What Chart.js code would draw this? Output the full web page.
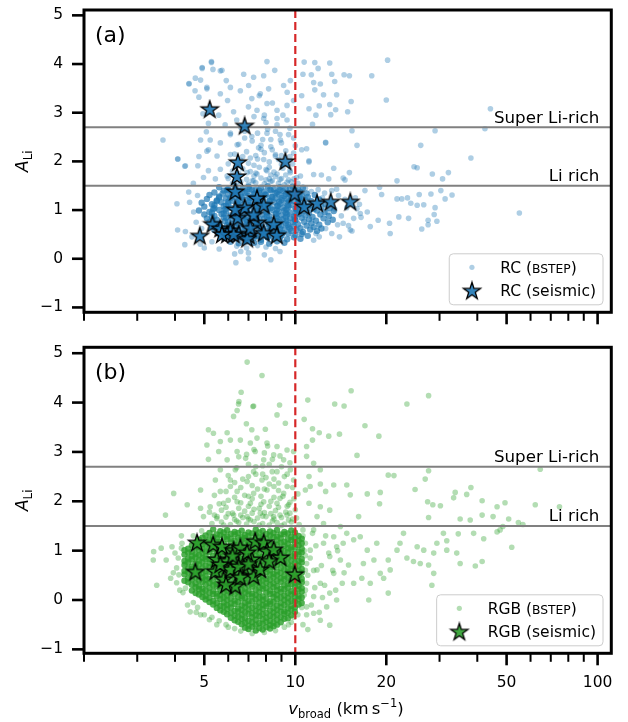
<!DOCTYPE html>
<html>
<head>
<meta charset="utf-8">
<script src="https://cdn.jsdelivr.net/npm/chart.js@4.4.1/dist/chart.umd.min.js"></script>
<style>
  html, body { margin: 0; padding: 0; background: #fff; }
  #wrap { position: relative; width: 628px; height: 722px; }
  canvas { position: absolute; left: 0; }
  #rc { top: 0; }
  #rgb { top: 330px; }
</style>
</head>
<body>
<div id="wrap">
  <canvas id="rc" width="628" height="330"></canvas>
  <canvas id="rgb" width="628" height="392"></canvas>
</div>
<script>
// --- axes ---
const xMajorTicks = [5, 10, 20, 50, 100];
const xMinorTicks = [2, 3, 4, 6, 7, 8, 9, 30, 40, 60, 70, 80, 90];
const yTicks = [-1, 0, 1, 2, 3, 4, 5];
const liLimits = [2.7, 1.5];
const liLimitNames = ['Super Li-rich', 'Li rich'];
const vbroadCut = 10;

// --- red clump: [vbroad, A(Li)] ---
const rcSeismic = [
  [5.21,3.06],[6.80,2.72],[6.46,1.97],[6.41,1.68],[6.33,1.37],[9.27,1.99],[9.95,1.32],
  [10.7,1.06],[11.8,1.13],[13.1,1.16],[15.2,1.16],[7.47,1.23],[7.86,1.09],[6.80,1.04],
  [4.83,0.46],[5.32,0.70],[5.65,0.61],[6.10,0.57],[6.45,0.83],[5.95,0.49],[6.5,0.50],
  [7.01,0.47],[7.47,0.73],[6.93,0.40],[8.48,0.69],[8.68,0.47],[7.86,0.52],[7.28,0.89],
  [6.33,1.00],[6.25,0.49],[5.72,0.49],[7.1,0.62]
];
// densely packed part of the survey sample
const rcBstepCore = [
  [5.6,1.47],[6.0,1.43],[6.3,1.49],[6.7,1.44],[7.0,1.48],[7.4,1.42],[7.7,1.46],[8.1,1.49],[8.5,1.43],[8.9,1.47],[9.3,1.44],[9.8,1.48],[10.2,1.42],[10.6,1.46],
  [5.4,1.36],[5.8,1.40],[6.2,1.35],[6.5,1.39],[6.9,1.37],[7.2,1.41],[7.6,1.35],[7.9,1.38],[8.3,1.40],[8.7,1.36],[9.1,1.39],[9.5,1.35],[10.0,1.40],[10.4,1.37],[10.9,1.34],
  [5.2,1.31],[5.6,1.28],[6.0,1.32],[6.35,1.27],[6.6,1.31],[7.0,1.29],[7.3,1.33],[7.7,1.28],[8.0,1.31],[8.4,1.27],[8.8,1.32],[9.2,1.29],[9.6,1.33],[10.1,1.28],[10.5,1.30],[11.0,1.27],[11.6,1.31],
  [5.1,1.23],[5.5,1.20],[5.9,1.24],[6.2,1.19],[6.5,1.23],[6.8,1.21],[7.1,1.25],[7.5,1.20],[7.8,1.23],[8.2,1.19],[8.6,1.24],[9.0,1.21],[9.4,1.23],[9.9,1.19],[10.3,1.24],[10.8,1.21],[11.3,1.18],[12.0,1.22],
  [4.9,1.15],[5.3,1.12],[5.7,1.16],[6.0,1.13],[6.4,1.15],[6.7,1.11],[7.0,1.16],[7.4,1.13],[7.7,1.15],[8.1,1.12],[8.5,1.16],[8.9,1.13],[9.3,1.15],[9.7,1.11],[10.2,1.16],[10.7,1.13],[11.2,1.10],[11.9,1.15],[12.6,1.12],
  [5.0,1.07],[5.4,1.04],[5.8,1.08],[6.1,1.05],[6.5,1.07],[6.8,1.03],[7.2,1.08],[7.5,1.05],[7.9,1.07],[8.3,1.04],[8.7,1.08],[9.1,1.05],[9.5,1.07],[10.0,1.03],[10.5,1.08],[11.0,1.05],[11.5,1.02],[12.2,1.07],[13.0,1.04],
  [4.8,0.99],[5.2,0.96],[5.6,1.00],[5.9,0.97],[6.3,0.99],[6.6,0.95],[6.9,1.00],[7.3,0.97],[7.6,0.99],[8.0,0.96],[8.4,1.00],[8.8,0.97],[9.2,0.99],[9.6,0.95],[10.1,1.00],[10.6,0.97],[11.1,0.94],[11.8,0.99],[12.5,0.96],[13.4,0.98],
  [5.0,0.91],[5.4,0.88],[5.7,0.92],[6.1,0.89],[6.4,0.91],[6.7,0.87],[7.1,0.92],[7.4,0.89],[7.8,0.91],[8.2,0.88],[8.6,0.92],[9.0,0.89],[9.4,0.91],[9.9,0.87],[10.3,0.92],[10.8,0.89],[11.4,0.86],[12.1,0.91],[12.9,0.88],
  [5.1,0.83],[5.5,0.80],[5.9,0.84],[6.2,0.81],[6.6,0.83],[6.9,0.79],[7.2,0.84],[7.6,0.81],[7.9,0.83],[8.3,0.80],[8.7,0.84],[9.1,0.81],[9.6,0.83],[10.0,0.79],[10.5,0.84],[11.1,0.81],[11.7,0.78],[12.4,0.83],[13.3,0.80],
  [5.2,0.75],[5.6,0.72],[6.0,0.76],[6.3,0.73],[6.7,0.75],[7.0,0.71],[7.4,0.76],[7.7,0.73],[8.1,0.75],[8.5,0.72],[8.9,0.76],[9.3,0.73],[9.8,0.75],[10.2,0.71],[10.7,0.76],[11.3,0.73],[12.0,0.70],[12.8,0.75],
  [5.3,0.67],[5.7,0.64],[6.1,0.68],[6.4,0.65],[6.8,0.67],[7.1,0.63],[7.5,0.68],[7.8,0.65],[8.2,0.67],[8.6,0.64],[9.0,0.68],[9.5,0.65],[9.9,0.67],[10.4,0.63],[10.9,0.68],[11.5,0.65],[12.2,0.62],
  [5.4,0.59],[5.8,0.56],[6.2,0.60],[6.5,0.57],[6.9,0.59],[7.2,0.55],[7.6,0.60],[8.0,0.57],[8.4,0.59],[8.8,0.56],[9.2,0.60],[9.7,0.57],[10.1,0.59],[10.6,0.55],[11.2,0.60],[11.8,0.57],
  [5.6,0.51],[6.0,0.48],[6.3,0.52],[6.7,0.49],[7.0,0.51],[7.4,0.47],[7.8,0.52],[8.2,0.49],[8.6,0.51],[9.0,0.48],[9.5,0.52],[10.0,0.49],[10.5,0.51],[11.0,0.47],
  [5.8,0.43],[6.2,0.40],[6.6,0.44],[7.0,0.41],[7.3,0.43],[7.7,0.39],[8.1,0.44],[8.5,0.41],[8.9,0.43],[9.4,0.40],[9.9,0.44],[10.4,0.41],
  [6.1,0.35],[6.5,0.32],[6.9,0.36],[7.3,0.33],[7.7,0.35],[8.2,0.31],[8.7,0.36],[9.2,0.33],
  [5.95,1.42],[6.45,1.41],[7.05,1.43],[7.6,1.40],[8.25,1.42],[8.9,1.41],[9.6,1.43],
  [5.75,1.34],[6.3,1.33],[6.8,1.35],[7.35,1.34],[7.95,1.32],[8.6,1.35],[9.3,1.33],[10.0,1.34],
  [5.6,1.26],[6.1,1.25],[6.65,1.27],[7.2,1.26],[7.75,1.24],[8.35,1.27],[9.0,1.25],[9.7,1.26],[10.4,1.25],
  [5.5,1.18],[6.0,1.17],[6.55,1.19],[7.1,1.18],[7.65,1.16],[8.25,1.19],[8.85,1.17],[9.55,1.18],[10.3,1.19],
  [5.4,1.10],[5.9,1.09],[6.45,1.11],[7.0,1.10],[7.55,1.08],[8.15,1.11],[8.75,1.09],[9.45,1.10],[10.2,1.11],
  [5.35,1.02],[5.85,1.01],[6.4,1.03],[6.95,1.02],[7.5,1.00],[8.1,1.03],[8.7,1.01],[9.35,1.02],[10.1,1.03],
  [5.3,0.94],[5.8,0.93],[6.35,0.95],[6.9,0.94],[7.45,0.92],[8.05,0.95],[8.65,0.93],[9.3,0.94],[10.05,0.95],
  [5.3,0.86],[5.8,0.85],[6.35,0.87],[6.9,0.86],[7.45,0.84],[8.05,0.87],[8.65,0.85],[9.3,0.86],[10.0,0.87],
  [5.35,0.78],[5.85,0.77],[6.4,0.79],[6.95,0.78],[7.5,0.76],[8.1,0.79],[8.7,0.77],[9.35,0.78],[10.0,0.79],
  [5.45,0.70],[5.95,0.69],[6.5,0.71],[7.05,0.70],[7.6,0.68],[8.2,0.71],[8.8,0.69],[9.45,0.70],
  [5.6,0.62],[6.1,0.61],[6.6,0.63],[7.15,0.62],[7.7,0.60],[8.3,0.63],[8.9,0.61],[9.6,0.62],
  [5.8,0.54],[6.3,0.53],[6.8,0.55],[7.3,0.54],[7.85,0.52],[8.45,0.55],[9.1,0.53],
  [6.0,0.46],[6.5,0.45],[7.0,0.47],[7.55,0.46],[8.1,0.44],[8.7,0.47]
];
const rcBstepPlume = [
  [5.28,4.05],[8.06,4.05],[4.92,3.91],[5.34,3.89],[5.72,3.87],[8.55,3.87],[4.67,3.71],[4.45,3.60],[5.91,3.66],[6.75,3.79],
  [7.28,3.73],[7.86,3.76],[7.01,3.56],[6.1,3.52],[6.58,3.45],[7.66,3.39],[8.16,3.49],[9.15,3.56],[9.63,3.66],[5.65,3.39],
  [5.10,3.49],[4.80,3.32],[5.97,3.25],[7.18,3.29],[8.06,3.19],[8.70,3.05],[9.39,3.15],[9.87,3.25],[6.25,3.02],[7.47,3.05],
  [5.58,2.95],[7.86,2.88],[8.70,2.75],[9.39,2.85],[5.86,2.75],[5.16,2.78],[6.1,2.58],[7.18,2.51],[8.06,2.58],[8.93,2.44],
  [9.87,2.48],[5.23,2.44],[3.65,2.44],[5.65,2.38],[6.42,2.34],[7.56,2.28],[8.39,2.24],[5.10,2.21],[5.51,2.11],[6.1,2.14],
  [7.1,2.07],[7.86,2.04],[8.59,2.11],[9.87,2.17],[10.5,2.24],[11.1,2.01],[4.08,2.05],[4.76,1.91],[5.16,1.81],[5.65,1.84],
  [5.95,1.70],[6.93,1.77],[7.47,1.74],[8.06,1.81],[8.70,1.74],[9.63,1.77],[4.33,1.91],[4.97,1.67],[5.44,1.64],[7.28,1.60],
  [8.39,1.60],[9.39,1.57],[10.1,1.67],
  [6.2,1.55],[6.6,1.58],[7.0,1.53],[7.4,1.56],[7.9,1.54],[8.3,1.59],[8.8,1.55],[9.2,1.52],[9.7,1.58],[10.2,1.55],
  [6.0,1.65],[6.4,1.68],[6.9,1.63],[7.3,1.70],[7.7,1.66],[8.2,1.64],[8.6,1.69],[9.0,1.65],[9.5,1.62],[10.4,1.70],
  [6.2,1.80],[6.7,1.85],[7.1,1.79],[7.6,1.88],[8.0,1.83],[8.5,1.78],[9.1,1.86],[9.6,1.81],
  [6.0,1.95],[6.6,2.02],[7.0,1.96],[7.5,2.05],[8.2,1.99],[8.8,2.04],[9.8,1.95],
  [6.3,2.15],[6.9,2.20],[7.4,2.12],[7.9,2.18],[8.6,2.14],[9.3,2.22],
  [6.5,2.35],[7.2,2.42],[7.7,2.33],[8.3,2.45],[9.0,2.38],[10.0,2.32],
  [6.1,2.55],[6.8,2.62],[7.5,2.58],[8.1,2.66],[8.9,2.55],[9.6,2.68],
  [6.4,2.85],[7.3,2.92],[8.0,2.80],[9.1,2.95],[7.0,3.12],[8.4,3.20],[7.6,3.35],[9.4,3.42],
  [6.4,1.52],[7.2,1.60],[8.0,1.62],[8.9,1.63],[9.9,1.64],[6.5,1.75],[7.4,1.76],[8.3,1.72],[9.3,1.72],
  [6.4,1.90],[7.3,1.92],[8.2,1.88],[9.0,1.94],[9.6,2.10],[6.7,2.10],[7.7,2.25],[8.3,2.30],[9.0,2.12],
  [6.8,2.48],[7.8,2.45],[8.6,2.62],[9.5,2.55],[6.6,2.70],[7.9,2.95],[8.7,2.88],
  [6.4,0.26],[6.9,0.22],[7.5,0.27],[8.0,0.24],[8.6,0.21],[7.0,0.12],[7.9,0.08],[8.9,0.15],[6.6,0.15],[8.3,-0.02],[7.0,0.0],[6.36,-0.08],[6.3,0.10]
];
const rcBstepWide = [
  [20.2,4.08],[10.7,4.04],[11.6,4.03],[13.0,4.02],[11.9,3.91],[10.6,3.79],[11.3,3.78],[13.2,3.79],[14.5,3.78],[15.1,3.76],
  [17.9,3.76],[11.5,3.62],[13.5,3.64],[12.1,3.59],[11.6,3.47],[12.4,3.37],[13.7,3.37],[10.5,3.35],[20.0,3.26],[15.3,3.23],
  [13.0,3.17],[12.0,3.14],[13.6,3.06],[11.1,3.08],[14.9,3.02],[11.7,2.95],[13.1,2.96],[11.4,2.76],[44.2,3.08],[42.4,2.67],
  [15.4,2.63],[29.0,2.63],[12.6,2.39],[10.9,2.26],[16.0,2.33],[26.0,2.33],[38.1,2.07],[11.1,1.99],[13.4,1.86],[24.7,1.89],
  [25.3,1.87],[28.4,1.74],[30.7,1.64],[32.1,1.77],[12.2,1.72],[11.5,1.73],[15.1,1.77],[14.4,1.66],[21.7,1.60],[19.0,1.47],
  [17.0,1.40],[19.3,1.32],[21.7,1.23],[22.5,1.23],[23.5,1.25],[25.7,1.32],[28.1,1.33],[30.3,1.40],[33.0,1.31],[31.3,1.23],
  [24.1,1.14],[25.3,1.10],[26.6,1.11],[29.0,1.05],[28.8,0.91],[22.0,0.86],[23.7,0.83],[27.5,0.79],[29.4,0.77],[55.1,0.94],
  [20.5,0.73],[18.8,0.79],[17.7,0.66],[20.6,0.52],[26.2,0.61],[27.5,0.70],[15.4,0.57],
  [14.6,1.62],[12.6,2.38],[12.9,1.64],[13.7,1.43],[16.0,1.03],[15.6,0.83],[16.4,0.93],[17.3,0.96],[15.2,0.59],[14.4,0.73],
  [10.8,1.45],[11.3,1.38],[11.9,1.42],[12.5,1.35],[13.2,1.40],[13.9,1.30],[14.6,1.22],[13.5,1.02],[12.8,0.95],[14.2,0.88],
  [13.8,0.70],[12.6,0.62],[13.2,0.52],[14.0,0.45],[12.0,0.45],[11.5,0.38],[14.8,1.05],[15.8,1.25],[16.3,1.12],[15.0,0.68],
  [16.5,0.85],[12.3,1.25],[11.7,0.52],
  [4.09,2.05],[4.31,1.90],[4.06,1.13],[4.08,0.59],[4.33,0.56],[4.31,0.29],[4.47,1.16],[4.61,0.96],[4.45,3.59],[4.92,3.93],
  [4.86,3.67],[4.66,3.45],[5.28,4.03],[5.65,3.86],[5.10,3.52],[4.95,2.98],[5.08,2.61],[4.86,2.44],[5.16,2.24],[4.80,2.10],
  [4.44,1.37],[4.7,0.75],[4.55,0.45],[4.9,0.62],[4.75,1.30],[4.85,0.30],[5.0,0.22],[4.6,1.55],[5.6,0.20],[5.3,0.35]
];

// --- red giant branch: [vbroad, A(Li)] ---
const rgbSeismic = [
  [4.73,1.15],[4.67,0.56],[5.35,1.11],[5.72,1.07],[6.25,1.00],[5.50,0.81],[5.95,0.78],[6.58,1.05],
  [5.44,0.57],[5.79,0.41],[6.33,0.27],[6.10,0.61],[6.75,0.64],[7.18,0.81],[7.28,0.47],[7.37,1.18],
  [7.86,1.15],[8.06,0.98],[8.48,1.01],[8.93,0.85],[7.66,0.61],[6.93,0.95],[6.49,0.67],[9.95,0.51],
  [5.65,0.71],[6.58,0.45],[5.9,0.30],[7.0,0.72],[8.2,0.78],[6.2,0.88]
];
const rgbBstepCore = [
  [5.35,1.43],[5.65,1.395],[5.95,1.415],[6.3,1.38],[6.65,1.405],[7.0,1.37],[7.4,1.425],[7.8,1.4],[8.25,1.39],[8.7,1.42],[9.2,1.38],[9.7,1.41],
  [5.05,1.31],[5.35,1.28],[5.65,1.32],[5.95,1.29],[6.3,1.33],[6.65,1.27],[7.0,1.3],[7.4,1.32],[7.8,1.28],[8.25,1.31],[8.7,1.29],[9.2,1.33],[9.7,1.28],[10.25,1.3],
  [4.8,1.22],[5.05,1.19],[5.35,1.21],[5.65,1.18],[5.95,1.23],[6.3,1.2],[6.65,1.22],[7.0,1.17],[7.4,1.21],[7.8,1.23],[8.25,1.19],[8.7,1.22],[9.2,1.18],[9.7,1.21],[10.25,1.2],
  [4.55,1.11],[4.8,1.08],[5.05,1.12],[5.35,1.09],[5.65,1.11],[5.95,1.07],[6.3,1.12],[6.65,1.1],[7.0,1.13],[7.4,1.08],[7.8,1.11],[8.25,1.09],[8.7,1.12],[9.2,1.1],[9.7,1.07],[10.25,1.11],
  [4.3,1.01],[4.55,0.98],[4.8,1.02],[5.05,0.99],[5.35,1.03],[5.65,0.97],[5.95,1.01],[6.3,0.99],[6.65,1.02],[7.0,0.98],[7.4,1.0],[7.8,1.03],[8.25,0.97],[8.7,1.01],[9.2,0.99],[9.7,1.02],[10.25,0.98],
  [4.3,0.92],[4.55,0.89],[4.8,0.91],[5.05,0.88],[5.35,0.9],[5.65,0.93],[5.95,0.89],[6.3,0.91],[6.65,0.87],[7.0,0.92],[7.4,0.9],[7.8,0.88],[8.25,0.91],[8.7,0.93],[9.2,0.89],[9.7,0.9],[10.25,0.92],
  [4.3,0.79],[4.55,0.82],[4.8,0.8],[5.05,0.83],[5.35,0.78],[5.65,0.81],[5.95,0.8],[6.3,0.77],[6.65,0.82],[7.0,0.8],[7.4,0.83],[7.8,0.79],[8.25,0.81],[8.7,0.78],[9.2,0.82],[9.7,0.8],[10.25,0.79],
  [4.3,0.71],[4.55,0.68],[4.8,0.72],[5.05,0.7],[5.35,0.69],[5.65,0.73],[5.95,0.68],[6.3,0.71],[6.65,0.7],[7.0,0.67],[7.4,0.72],[7.8,0.7],[8.25,0.68],[8.7,0.71],[9.2,0.73],[9.7,0.69],[10.25,0.7],
  [4.3,0.59],[4.55,0.62],[4.8,0.6],[5.05,0.58],[5.35,0.61],[5.65,0.59],[5.95,0.62],[6.3,0.6],[6.65,0.57],[7.0,0.61],[7.4,0.59],[7.8,0.62],[8.25,0.6],[8.7,0.58],[9.2,0.61],[9.7,0.63],[10.25,0.59],
  [4.3,0.52],[4.55,0.49],[4.8,0.51],[5.05,0.48],[5.35,0.52],[5.65,0.5],[5.95,0.47],[6.3,0.51],[6.65,0.53],[7.0,0.49],[7.4,0.5],[7.8,0.48],[8.25,0.52],[8.7,0.5],[9.2,0.49],[9.7,0.51],[10.25,0.48],
  [4.3,0.39],[4.55,0.42],[4.8,0.4],[5.05,0.41],[5.35,0.38],[5.65,0.42],[5.95,0.4],[6.3,0.39],[6.65,0.41],[7.0,0.43],[7.4,0.38],[7.8,0.4],[8.25,0.41],[8.7,0.39],[9.2,0.42],[9.7,0.4],[10.25,0.37],
  [4.55,0.31],[4.8,0.28],[5.05,0.32],[5.35,0.3],[5.65,0.29],[5.95,0.32],[6.3,0.28],[6.65,0.31],[7.0,0.3],[7.4,0.33],[7.8,0.29],[8.25,0.31],[8.7,0.28],[9.2,0.3],[9.7,0.32],[10.25,0.29],
  [4.55,0.19],[4.8,0.22],[5.05,0.2],[5.35,0.18],[5.65,0.21],[5.95,0.19],[6.3,0.22],[6.65,0.2],[7.0,0.18],[7.4,0.21],[7.8,0.23],[8.25,0.19],[8.7,0.2],[9.2,0.22],[9.7,0.18],[10.25,0.21],
  [4.8,0.11],[5.05,0.08],[5.35,0.12],[5.65,0.1],[5.95,0.09],[6.3,0.12],[6.65,0.08],[7.0,0.11],[7.4,0.1],[7.8,0.07],[8.25,0.12],[8.7,0.1],[9.2,0.09],[9.7,0.11],[10.25,0.08],
  [5.05,0.01],[5.35,-0.02],[5.65,0.02],[5.95,0],[6.3,-0.01],[6.65,0.03],[7.0,-0.02],[7.4,0.01],[7.8,0],[8.25,-0.03],[8.7,0.02],[9.2,0],[9.7,-0.01],[10.25,0.02],
  [5.35,-0.09],[5.65,-0.12],[5.95,-0.1],[6.3,-0.08],[6.65,-0.11],[7.0,-0.09],[7.4,-0.12],[7.8,-0.1],[8.25,-0.08],[8.7,-0.11],[9.2,-0.1],[9.7,-0.12],[10.25,-0.09],
  [5.65,-0.21],[5.95,-0.18],[6.3,-0.22],[6.65,-0.2],[7.0,-0.19],[7.4,-0.22],[7.8,-0.18],[8.25,-0.21],[8.7,-0.2],[9.2,-0.23],[9.7,-0.19],
  [5.95,-0.29],[6.3,-0.32],[6.65,-0.3],[7.0,-0.28],[7.4,-0.31],[7.8,-0.29],[8.25,-0.32],[8.7,-0.3],[9.2,-0.28],[9.7,-0.31],
  [6.3,-0.41],[6.65,-0.38],[7.0,-0.42],[7.4,-0.4],[7.8,-0.39],[8.25,-0.42],[8.7,-0.4],[9.2,-0.38],
  [6.65,-0.49],[7.0,-0.52],[7.4,-0.5],[7.8,-0.48],[8.25,-0.51],[8.7,-0.5],
  [7.0,-0.59],[7.4,-0.62],[7.8,-0.6],[8.25,-0.58],
  [5.2,1.36],[5.5,1.33],[5.8,1.37],[6.12,1.34],[6.47,1.36],[6.82,1.32],[7.2,1.35],[7.6,1.37],[8.02,1.34],[8.47,1.36],[8.95,1.33],[9.45,1.35],[9.97,1.37],
  [4.93,1.26],[5.2,1.23],[5.5,1.25],[5.8,1.27],[6.12,1.24],[6.47,1.26],[6.82,1.25],[7.2,1.22],[7.6,1.26],[8.02,1.24],[8.47,1.27],[8.95,1.25],[9.45,1.23],[9.97,1.26],[10.5,1.24],
  [4.68,1.16],[4.93,1.13],[5.2,1.15],[5.5,1.17],[5.8,1.14],[6.12,1.16],[6.47,1.13],[6.82,1.15],[7.2,1.17],[7.6,1.14],[8.02,1.15],[8.47,1.13],[8.95,1.16],[9.45,1.14],[9.97,1.17],[10.5,1.15],
  [4.42,1.04],[4.68,1.06],[4.93,1.03],[5.2,1.05],[5.5,1.07],[5.8,1.04],[6.12,1.06],[6.47,1.05],[6.82,1.03],[7.2,1.07],[7.6,1.05],[8.02,1.04],[8.47,1.06],[8.95,1.03],[9.45,1.05],[9.97,1.07],[10.5,1.04],
  [4.42,0.96],[4.68,0.93],[4.93,0.95],[5.2,0.97],[5.5,0.94],[5.8,0.96],[6.12,0.95],[6.47,0.93],[6.82,0.97],[7.2,0.95],[7.6,0.94],[8.02,0.96],[8.47,0.93],[8.95,0.95],[9.45,0.97],[9.97,0.94],[10.5,0.96],
  [4.42,0.84],[4.68,0.86],[4.93,0.85],[5.2,0.83],[5.5,0.86],[5.8,0.84],[6.12,0.87],[6.47,0.85],[6.82,0.83],[7.2,0.86],[7.6,0.85],[8.02,0.83],[8.47,0.86],[8.95,0.84],[9.45,0.85],[9.97,0.87],[10.5,0.83],
  [4.42,0.76],[4.68,0.74],[4.93,0.77],[5.2,0.75],[5.5,0.73],[5.8,0.76],[6.12,0.74],[6.47,0.77],[6.82,0.75],[7.2,0.73],[7.6,0.76],[8.02,0.75],[8.47,0.74],[8.95,0.77],[9.45,0.73],[9.97,0.75],[10.5,0.76],
  [4.42,0.64],[4.68,0.66],[4.93,0.65],[5.2,0.67],[5.5,0.64],[5.8,0.65],[6.12,0.63],[6.47,0.66],[6.82,0.64],[7.2,0.67],[7.6,0.65],[8.02,0.63],[8.47,0.66],[8.95,0.65],[9.45,0.64],[9.97,0.66],[10.5,0.63],
  [4.42,0.56],[4.68,0.53],[4.93,0.55],[5.2,0.57],[5.5,0.54],[5.8,0.56],[6.12,0.55],[6.47,0.53],[6.82,0.57],[7.2,0.55],[7.6,0.54],[8.02,0.56],[8.47,0.53],[8.95,0.55],[9.45,0.57],[9.97,0.54],[10.5,0.55],
  [4.42,0.44],[4.68,0.46],[4.93,0.45],[5.2,0.43],[5.5,0.46],[5.8,0.44],[6.12,0.47],[6.47,0.45],[6.82,0.43],[7.2,0.46],[7.6,0.45],[8.02,0.43],[8.47,0.46],[8.95,0.44],[9.45,0.45],[9.97,0.47],[10.5,0.43],
  [4.42,0.36],[4.68,0.34],[4.93,0.37],[5.2,0.35],[5.5,0.33],[5.8,0.36],[6.12,0.34],[6.47,0.37],[6.82,0.35],[7.2,0.33],[7.6,0.36],[8.02,0.35],[8.47,0.34],[8.95,0.37],[9.45,0.33],[9.97,0.35],[10.5,0.36],
  [4.68,0.26],[4.93,0.23],[5.2,0.25],[5.5,0.27],[5.8,0.24],[6.12,0.26],[6.47,0.25],[6.82,0.23],[7.2,0.27],[7.6,0.25],[8.02,0.24],[8.47,0.26],[8.95,0.23],[9.45,0.25],[9.97,0.27],[10.5,0.24],
  [4.68,0.14],[4.93,0.16],[5.2,0.15],[5.5,0.13],[5.8,0.16],[6.12,0.14],[6.47,0.17],[6.82,0.15],[7.2,0.13],[7.6,0.16],[8.02,0.15],[8.47,0.13],[8.95,0.16],[9.45,0.14],[9.97,0.15],[10.5,0.17],
  [4.93,0.06],[5.2,0.04],[5.5,0.07],[5.8,0.05],[6.12,0.03],[6.47,0.06],[6.82,0.04],[7.2,0.07],[7.6,0.05],[8.02,0.03],[8.47,0.06],[8.95,0.05],[9.45,0.04],[9.97,0.07],[10.5,0.05],
  [5.2,-0.04],[5.5,-0.06],[5.8,-0.05],[6.12,-0.07],[6.47,-0.04],[6.82,-0.06],[7.2,-0.03],[7.6,-0.05],[8.02,-0.07],[8.47,-0.04],[8.95,-0.06],[9.45,-0.05],[9.97,-0.03],[10.5,-0.06],
  [5.5,-0.16],[5.8,-0.13],[6.12,-0.15],[6.47,-0.17],[6.82,-0.14],[7.2,-0.16],[7.6,-0.15],[8.02,-0.13],[8.47,-0.16],[8.95,-0.14],[9.45,-0.17],[9.97,-0.15],
  [5.8,-0.24],[6.12,-0.26],[6.47,-0.23],[6.82,-0.25],[7.2,-0.27],[7.6,-0.24],[8.02,-0.26],[8.47,-0.25],[8.95,-0.23],[9.45,-0.26],[9.97,-0.24],
  [6.12,-0.36],[6.47,-0.34],[6.82,-0.37],[7.2,-0.35],[7.6,-0.33],[8.02,-0.36],[8.47,-0.34],[8.95,-0.35],[9.45,-0.37],
  [6.47,-0.44],[6.82,-0.46],[7.2,-0.45],[7.6,-0.47],[8.02,-0.44],[8.47,-0.46],[8.95,-0.45],
  [6.82,-0.56],[7.2,-0.54],[7.6,-0.57],[8.02,-0.55],[8.47,-0.53]
];
const rgbBstepPlume = [
  [6.93,4.82],[7.76,4.55],[6.62,4.21],[8.87,3.95],[7.24,3.92],[6.51,4.02],[8.70,3.75],[9.27,3.58],[6.49,3.97],[7.28,3.93],
  [6.42,3.84],[6.25,3.72],[6.89,3.57],[7.96,3.46],[7.18,3.45],[5.16,3.45],[5.36,3.38],[5.95,3.39],[6.1,3.24],[5.65,3.21],
  [5.10,3.14],[6.58,3.24],[7.1,3.18],[7.47,3.28],[8.06,3.18],[8.70,3.11],[9.39,3.04],[9.87,3.01],[5.58,3.01],[6.42,3.01],
  [7.37,3.01],[8.48,2.94],[5.16,2.85],[5.95,2.84],[6.85,2.87],[7.86,2.84],[9.15,2.84],[5.65,2.64],[6.33,2.64],[7.28,2.60],
  [8.39,2.60],[9.63,2.64],[5.44,2.43],[6.1,2.43],[6.93,2.40],[7.76,2.43],[8.81,2.37],[9.87,2.43],[4.86,2.23],[5.65,2.20],
  [6.42,2.20],[7.28,2.16],[8.06,2.23],[9.15,2.16],[4.39,1.93],[4.86,1.86],[5.23,1.89],[5.79,1.96],[6.42,1.99],[7.1,1.96],
  [7.86,1.99],[8.70,1.96],[9.50,1.93],[3.72,1.72],[4.97,1.69],[5.51,1.69],[6.25,1.72],[6.93,1.69],[7.66,1.76],[8.48,1.69],
  [9.39,1.72],
  [5.3,1.55],[5.7,1.58],[6.1,1.53],[6.5,1.57],[6.9,1.54],[7.3,1.59],[7.8,1.55],[8.2,1.52],[8.7,1.57],[9.2,1.54],[9.7,1.58],[10.3,1.53],
  [5.5,1.65],[5.9,1.68],[6.3,1.63],[6.7,1.67],[7.1,1.62],[7.5,1.66],[8.0,1.69],[8.5,1.64],[9.0,1.67],[9.5,1.62],[10.1,1.66],
  [5.2,1.78],[5.7,1.82],[6.2,1.76],[6.8,1.80],[7.3,1.84],[7.9,1.77],[8.6,1.81],[9.3,1.78],[10.0,1.83],
  [5.6,1.95],[6.0,2.02],[6.6,1.97],[7.2,2.05],[7.7,1.94],[8.3,2.00],[8.9,2.06],[9.6,1.98],
  [5.4,2.12],[6.1,2.30],[6.8,2.12],[7.5,2.25],[8.2,2.35],[8.8,2.22],[9.4,2.30],[10.2,2.15],
  [6.0,2.52],[6.7,2.45],[7.4,2.55],[8.0,2.48],[8.7,2.60],[9.2,2.50],[7.0,2.75],[7.8,2.72],[8.4,2.85],[9.6,2.78],
  [6.5,2.90],[7.3,3.05],[8.1,3.12],
  [5.8,1.52],[6.4,1.60],[7.0,1.64],[7.6,1.52],[8.4,1.60],[9.0,1.51],[9.8,1.64],
  [5.4,1.72],[6.0,1.75],[6.6,1.72],[7.2,1.76],[7.8,1.70],[8.3,1.75],[8.9,1.72],[9.6,1.76],
  [5.9,1.88],[6.5,1.86],[7.0,1.90],[7.6,1.86],[8.2,1.90],[8.8,1.88],[9.4,1.90],
  [6.3,2.08],[7.0,2.10],[7.7,2.10],[8.5,2.08],[9.1,2.10],[9.9,2.05],
  [5.9,2.20],[6.6,2.28],[7.2,2.32],[7.9,2.25],[8.5,2.30],[9.8,2.28],
  [6.3,2.38],[7.0,2.50],[7.8,2.55],[8.5,2.45],[9.4,2.55],
  [6.4,2.68],[7.4,2.70],[8.2,2.75],[9.0,2.70],[6.9,2.95],[7.9,2.98],[8.9,2.92]
];
const rgbBstepWide = [
  [15.3,4.24],[27.6,4.14],[23.4,3.97],[11.0,4.05],[13.5,3.97],[14.5,3.93],[17.0,3.53],[18.9,3.32],[11.4,3.47],[12.0,3.39],
  [12.9,3.32],[14.0,3.36],[10.7,3.66],[11.4,3.24],[10.9,3.11],[16.0,2.93],[64.6,2.65],[20.3,2.53],[21.2,2.52],[26.9,2.45],
  [27.6,2.62],[14.8,2.33],[13.4,2.33],[12.1,2.35],[11.2,2.30],[12.6,2.20],[15.2,2.13],[17.3,2.15],[19.1,2.18],[24.9,2.24],
  [33.8,2.18],[36.9,2.14],[38.1,2.28],[19.0,1.95],[27.4,1.99],[28.5,1.93],[30.2,1.91],[33.4,2.07],[41.5,2.01],[46.5,1.89],
  [49.4,1.97],[62.2,1.93],[74.8,1.89],[16.2,1.69],[27.6,1.67],[35.1,1.64],[37.9,1.62],[41.5,1.72],[45.1,1.69],[50.8,1.64],
  [54.7,1.57],[56.6,1.53],[47.6,1.42],[48.6,1.49],[46.5,1.38],[52.0,1.07],[42.0,1.24],[38.9,1.35],[34.6,1.34],[31.7,1.20],
  [30.9,1.35],[29.4,1.15],[28.7,0.95],[31.7,1.01],[34.2,0.95],[35.1,0.74],[39.4,0.69],[41.5,0.78],[27.6,0.71],[25.9,0.74],
  [24.6,0.78],[23.4,0.85],[28.7,0.54],[28.3,0.30],[26.6,1.01],[25.3,1.08],[22.2,1.15],[22.8,1.35],[21.7,1.01],[20.3,0.81],
  [20.6,0.61],[19.1,0.54],[19.6,0.44],[20.3,0.14],[17.5,0.00],[17.7,0.34],[16.6,0.44],[15.6,0.34],[16.8,0.74],[18.2,0.81],
  [18.6,1.15],[17.3,1.01],[16.4,1.28],[15.6,1.22],[14.4,1.15],[14.8,1.35],[14.1,1.49],[13.4,1.28],[13.7,1.08],[13.0,0.88],
  [14.1,0.81],[15.0,0.71],[13.4,0.54],[14.3,0.34],[13.0,0.14],[12.7,-0.14],[12.1,-0.41],[13.0,-0.51],[13.7,0.00],[12.1,0.34],
  [11.5,0.07],[11.8,0.61],[12.4,1.15],[11.5,1.42],[11.2,1.01],[10.9,0.74],[10.9,0.34],[10.9,-0.14],[11.5,-0.27],[12.4,1.55],
  [11.8,1.69],[12.1,1.89],[13.0,1.82],[11.1,1.96],[10.8,2.23],[11.5,2.77],[12.1,2.64],[10.9,2.91],[11.1,2.50],
  [10.6,1.30],[10.8,0.90],[11.0,0.50],[10.7,0.10],[10.9,-0.30],[11.3,-0.10],[11.6,0.25],[11.2,0.85],[11.7,1.10],[12.2,0.70],
  [12.5,0.30],[12.0,-0.25],[12.9,0.95],[13.3,0.60],[10.6,-0.50],[11.4,1.35],[12.6,1.30],[13.8,1.00],[14.5,0.55],[13.6,0.20],
  [11.0,-0.60],[12.3,0.05],[10.8,1.15],[11.5,0.60],
  [3.96,2.16],[3.40,0.98],[3.39,0.81],[3.48,0.30],[3.74,0.81],[3.87,0.44],[3.91,1.08],[4.22,1.15],[4.33,0.24],[4.49,-0.24],
  [4.86,-0.30],[4.33,0.74],[4.12,0.51],[4.47,0.81],[4.0,0.95],[4.15,0.20],[4.6,-0.05],[4.2,1.30],[3.6,1.05],[4.05,0.65],
  [4.75,-0.15],[5.2,-0.40],[5.5,-0.50],[6.0,-0.55],[9.5,-0.50],[9.9,-0.35],
  [3.95,0.55],[4.05,0.35],[4.1,0.85],[4.2,1.05],[4.25,0.15],[4.4,-0.10],[4.7,-0.25],[5.0,-0.30],[5.3,-0.35],[5.6,-0.42],
  [5.9,-0.50],[6.3,-0.58],[6.6,-0.63],[7.2,-0.68],[7.9,-0.66],[8.6,-0.62],[9.2,-0.55],[9.7,-0.45],[10.2,-0.30],[10.5,-0.15],
  [10.8,0.20],[10.8,0.60],[10.7,1.00],[10.6,1.42],[4.6,1.30],[4.9,1.40]
];

const FONT = "'DejaVu Sans', sans-serif";
const toXY = pts => pts.map(([x, y]) => ({ x, y }));

// matplotlib-style five pointed star marker, drawn once and reused as a point image
function makeStar(fill, r) {
  const s = Math.ceil(r * 2 + 4);
  const c = document.createElement('canvas');
  c.width = c.height = s;
  const g = c.getContext('2d');
  g.beginPath();
  for (let i = 0; i < 10; i++) {
    const rad = i % 2 ? r * 0.382 : r;
    const a = -Math.PI / 2 + i * Math.PI / 5;
    const px = s / 2 + rad * Math.cos(a), py = s / 2 + rad * Math.sin(a);
    if (i) g.lineTo(px, py); else g.moveTo(px, py);
  }
  g.closePath();
  g.fillStyle = fill;
  g.fill();
  g.lineWidth = 1.3;
  g.strokeStyle = '#000';
  g.stroke();
  return c;
}

// writes a run of text pieces with their own size / style / baseline shift
function drawRuns(ctx, runs, x, y) {
  let cx = x;
  runs.forEach(r => {
    ctx.font = `${r.style || ''} ${r.size}px ${FONT}`;
    ctx.fillText(r.t, cx, y + (r.dy || 0));
    cx += ctx.measureText(r.t).width;
  });
  return cx - x;
}
function runsWidth(ctx, runs) {
  return runs.reduce((w, r) => {
    ctx.font = `${r.style || ''} ${r.size}px ${FONT}`;
    return w + ctx.measureText(r.t).width;
  }, 0);
}

const decor = {
  id: 'decor',
  // reference lines go between the survey cloud and the seismic stars
  afterDatasetDraw(chart, args) {
    if (args.index !== 1) return;
    const { ctx, chartArea: a, scales: { x, y } } = chart;
    ctx.save();
    ctx.beginPath();
    ctx.rect(a.left, a.top, a.right - a.left, a.bottom - a.top);
    ctx.clip();
    ctx.strokeStyle = '#808080';
    ctx.lineWidth = 2;
    liLimits.forEach(v => {
      const py = y.getPixelForValue(v);
      ctx.beginPath(); ctx.moveTo(a.left, py); ctx.lineTo(a.right, py); ctx.stroke();
    });
    ctx.strokeStyle = '#d62728';
    ctx.lineWidth = 2.2;
    ctx.setLineDash([8, 4]);
    const px = x.getPixelForValue(vbroadCut);
    ctx.beginPath(); ctx.moveTo(px, a.top); ctx.lineTo(px, a.bottom); ctx.stroke();
    ctx.restore();
  },
  afterDraw(chart, args, o) {
    const { ctx, chartArea: a, scales: { x, y } } = chart;
    ctx.save();
    ctx.fillStyle = '#000';
    ctx.textBaseline = 'alphabetic';

    // Li-rich thresholds
    ctx.font = `16.7px ${FONT}`;
    ctx.textAlign = 'right';
    liLimits.forEach((v, i) => ctx.fillText(liLimitNames[i], a.right - 12, y.getPixelForValue(v) - 4.5));
    ctx.textAlign = 'left';

    // frame
    ctx.strokeStyle = '#000';
    ctx.lineWidth = 3;
    ctx.strokeRect(a.left, a.top, a.right - a.left, a.bottom - a.top);

    // outward ticks
    const tick = (x0, y0, x1, y1, w) => {
      ctx.lineWidth = w;
      ctx.beginPath(); ctx.moveTo(x0, y0); ctx.lineTo(x1, y1); ctx.stroke();
    };
    xMajorTicks.forEach(v => { const p = x.getPixelForValue(v); tick(p, a.bottom, p, a.bottom + 12, 2.6); });
    xMinorTicks.forEach(v => { const p = x.getPixelForValue(v); tick(p, a.bottom, p, a.bottom + 8.5, 2); });
    yTicks.forEach(v => { const p = y.getPixelForValue(v); tick(a.left, p, a.left - 12, p, 2.6); });

    // panel tag
    ctx.font = `22px ${FONT}`;
    ctx.fillText(o.tag, a.left + 11, a.top + 32);

    // y title A_Li
    ctx.save();
    ctx.translate(22, (a.top + a.bottom) / 2);
    ctx.rotate(-Math.PI / 2);
    const yRuns = [{ t: 'A', size: 17, style: 'italic' }, { t: 'Li', size: 12, dy: 3.5 }];
    drawRuns(ctx, yRuns, -runsWidth(ctx, yRuns) / 2, 6);
    ctx.restore();

    // x title only under the lower panel
    if (o.xTitle) {
      const xRuns = [
        { t: 'v', size: 16.5, style: 'italic' }, { t: 'broad', size: 11.5, dy: 3.5 },
        { t: ' (km\u2009s', size: 16.5 }, { t: '\u22121', size: 11.5, dy: -7 }, { t: ')', size: 16.5 }
      ];
      drawRuns(ctx, xRuns, 346 - runsWidth(ctx, xRuns) / 2, a.bottom + 61);
    }

    // legend
    const nameRuns = [
      [{ t: o.group + ' (', size: 15.5 }, { t: 'BSTEP', size: 12.3 }, { t: ')', size: 15.5 }],
      [{ t: o.group + ' (seismic)', size: 15.5 }]
    ];
    const textW = Math.max(...nameRuns.map(r => runsWidth(ctx, r)));
    const bw = 51 + textW + 7, bh = 51;
    const bx = a.right - 8.3 - bw, by = a.bottom - 7.5 - bh;
    ctx.beginPath();
    ctx.roundRect(bx, by, bw, bh, 4);
    ctx.fillStyle = 'rgba(255,255,255,0.8)';
    ctx.fill();
    ctx.lineWidth = 1;
    ctx.strokeStyle = '#cccccc';
    ctx.stroke();
    ctx.fillStyle = o.dotColor;
    ctx.beginPath(); ctx.arc(bx + 22.7, by + 13.5, 2.6, 0, Math.PI * 2); ctx.fill();
    ctx.drawImage(o.star, bx + 22.7 - o.star.width / 2, by + 37.5 - o.star.height / 2);
    ctx.fillStyle = '#000';
    drawRuns(ctx, nameRuns[0], bx + 51, by + 13.5 + 5.6);
    drawRuns(ctx, nameRuns[1], bx + 51, by + 36.5 + 5.6);
    ctx.restore();
  }
};

// scales must not reserve extra room for their end labels
const noScalePadding = s => { s.paddingTop = s.paddingBottom = s.paddingLeft = s.paddingRight = 0; };

function buildPanel(id, cfg) {
  const star = makeStar(cfg.starColor, 9);
  return new Chart(document.getElementById(id), {
    type: 'scatter',
    data: {
      datasets: [
        { label: cfg.group + ' (seismic)', data: toXY(cfg.seismic), pointStyle: star, pointRadius: 9, order: 0 },
        { label: cfg.group + ' (BSTEP)', data: toXY(cfg.core), pointRadius: 3.2, pointBorderWidth: 0,
          pointBackgroundColor: cfg.coreColor, order: 1 },
        { label: cfg.group + ' (BSTEP)', data: toXY(cfg.outer), pointRadius: 2.8, pointBorderWidth: 0,
          pointBackgroundColor: cfg.dotColor, order: 2 }
      ]
    },
    options: {
      responsive: false,
      animation: false,
      devicePixelRatio: 1,
      events: [],
      layout: { padding: { top: cfg.padTop, right: 16.7, left: 0, bottom: 0 } },
      plugins: {
        legend: { display: false },
        tooltip: { enabled: false },
        decor: { tag: cfg.tag, group: cfg.group, dotColor: cfg.dotColor, star, xTitle: cfg.xTitle }
      },
      scales: {
        x: {
          type: 'logarithmic', min: 2, max: 111,
          grid: { display: false, drawTicks: false, tickLength: 0 },
          border: { display: false },
          afterBuildTicks: s => { s.ticks = xMajorTicks.map(v => ({ value: v })); },
          afterFit: s => { s.height = cfg.xHeight; noScalePadding(s); },
          ticks: { display: cfg.xTitle, autoSkip: false, maxRotation: 0, padding: 20.7,
                   color: '#000', font: { family: FONT, size: 15.5 }, callback: v => String(v) }
        },
        y: {
          min: cfg.yMin, max: cfg.yMax,
          grid: { display: false, drawTicks: false, tickLength: 0 },
          border: { display: false },
          afterBuildTicks: s => { s.ticks = yTicks.map(v => ({ value: v })); },
          afterFit: s => { s.width = 84; noScalePadding(s); },
          ticks: { padding: 21, color: '#000', font: { family: FONT, size: 15.5 },
                   callback: v => (v < 0 ? '\u2212' + Math.abs(v) : String(v)) }
        }
      }
    },
    plugins: [decor]
  });
}

buildPanel('rc', {
  tag: '(a)', group: 'RC', xTitle: false,
  seismic: rcSeismic, core: rcBstepCore, outer: [...rcBstepPlume, ...rcBstepWide],
  starColor: 'rgba(31,119,180,0.9)', dotColor: 'rgba(31,119,180,0.36)', coreColor: 'rgba(31,119,180,0.7)',
  padTop: 5.3, xHeight: 17.7, yMin: -1.1, yMax: 5.11
});
buildPanel('rgb', {
  tag: '(b)', group: 'RGB', xTitle: true,
  seismic: rgbSeismic, core: rgbBstepCore, outer: [...rgbBstepPlume, ...rgbBstepWide],
  starColor: 'rgba(44,160,44,0.9)', dotColor: 'rgba(44,160,44,0.36)', coreColor: 'rgba(44,160,44,0.82)',
  padTop: 17.3, xHeight: 68.7, yMin: -1.08, yMax: 5.12
});
</script>
</body>
</html>
